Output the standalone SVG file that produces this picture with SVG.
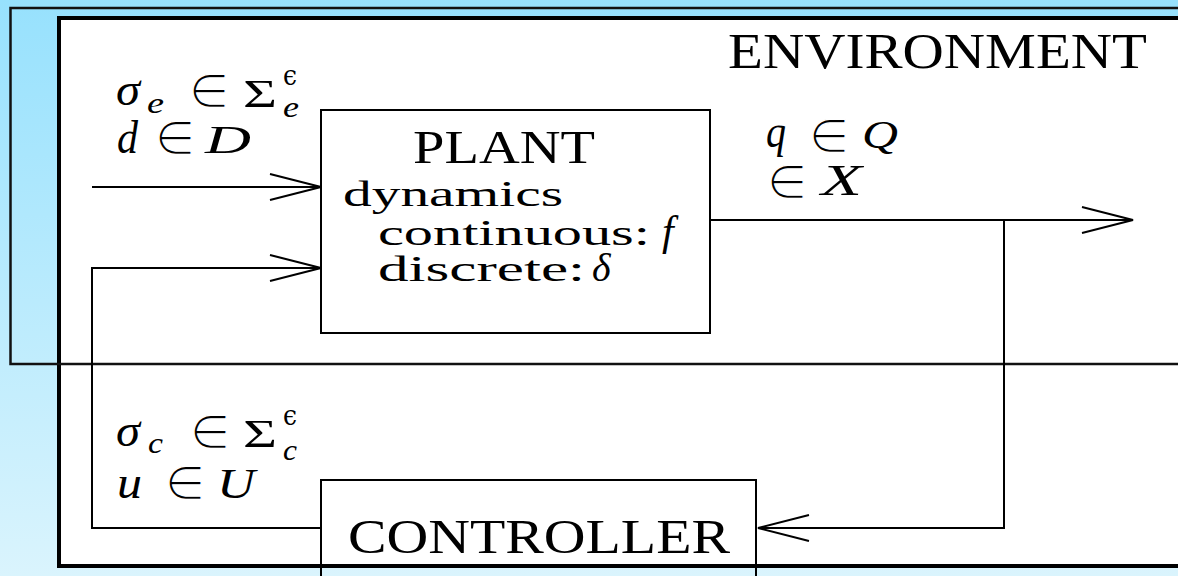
<svg xmlns="http://www.w3.org/2000/svg" width="1178" height="576" viewBox="0 0 1178 576">
  <defs>
    <linearGradient id="sky" x1="0" y1="0" x2="0" y2="1">
      <stop offset="0" stop-color="#97e1fd"/>
      <stop offset="1" stop-color="#daf4fd"/>
    </linearGradient>
    <marker id="vee" markerUnits="userSpaceOnUse" markerWidth="60" markerHeight="32" refX="53" refY="15" orient="auto">
      <path d="M2,2 L53,15 L2,28" fill="none" stroke="#000" stroke-width="2"/>
    </marker>
    <style>
      .box { fill: none; stroke: #000; stroke-width: 2; }
      .wire { fill: none; stroke: #000; stroke-width: 2; marker-end: url(#vee); }
      text { font-family: "Liberation Serif", "DejaVu Serif", serif; fill: #000; }
      .title { font-size: 50px; }
      .body { font-size: 36px; }
      .lc { font-size: 46px; font-style: italic; }
      .uc { font-size: 41px; font-style: italic; }
      /* membership sign: white outline trims the stroke to a lighter weight */
      .op { font-size: 46px; font-family: "DejaVu Sans", "DejaVu Serif", sans-serif; stroke: #fff; stroke-width: 1.4px; }
      .sg { font-size: 40px; }
      .sub { font-size: 30px; font-style: italic; }
      .sup { font-size: 28px; font-family: "DejaVu Serif", serif; }
    </style>
  </defs>

  <!-- backdrop -->
  <rect x="0" y="0" width="1178" height="576" fill="url(#sky)"/>

  <!-- system frame -->
  <g id="frame">
    <rect x="59" y="18" width="1140" height="548" fill="#fff" stroke="#000" stroke-width="4"/>
  </g>

  <!-- environment region -->
  <g id="environment">
    <rect x="10.5" y="8" width="1190" height="356" fill="none" stroke="#111" stroke-width="2.5"/>
    <text class="title" x="728" y="68" textLength="419" lengthAdjust="spacingAndGlyphs">ENVIRONMENT</text>
  </g>

  <!-- plant -->
  <g id="plant">
    <rect class="box" x="321" y="110" width="389" height="223"/>
    <text class="title" x="413" y="163" style="font-size:46px" textLength="182" lengthAdjust="spacingAndGlyphs">PLANT</text>
    <text class="body" x="343" y="206" textLength="220" lengthAdjust="spacingAndGlyphs">dynamics</text>
    <text class="body" x="378" y="245" textLength="272" lengthAdjust="spacingAndGlyphs">continuous:</text>
    <text class="lc" x="662" y="245" style="font-size:42px">f</text>
    <text class="body" x="378" y="281" textLength="207" lengthAdjust="spacingAndGlyphs">discrete:</text>
    <text class="lc" x="592" y="281" style="font-size:40px">δ</text>
  </g>

  <!-- controller -->
  <g id="controller">
    <rect class="box" x="321" y="480" width="435" height="120"/>
    <text class="title" x="348" y="553" style="font-size:48px" textLength="382" lengthAdjust="spacingAndGlyphs">CONTROLLER</text>
  </g>

  <!-- environment inputs: events and disturbances -->
  <g id="env-inputs">
    <text class="lc" x="116" y="105" textLength="24" lengthAdjust="spacingAndGlyphs">σ</text>
    <text class="sub" x="147" y="113" textLength="17" lengthAdjust="spacingAndGlyphs">e</text>
    <text class="op" x="189" y="107">∈</text>
    <text class="sg" x="243" y="107" textLength="34" lengthAdjust="spacingAndGlyphs">Σ</text>
    <text class="sup" x="283" y="85" textLength="14" lengthAdjust="spacingAndGlyphs">ϵ</text>
    <text class="sub" x="283" y="117" textLength="16" lengthAdjust="spacingAndGlyphs">e</text>
    <text class="lc" x="117" y="153" textLength="21" lengthAdjust="spacingAndGlyphs">d</text>
    <text class="op" x="155" y="154">∈</text>
    <text class="uc" x="205" y="153" textLength="46" lengthAdjust="spacingAndGlyphs">D</text>
  </g>

  <!-- plant outputs: discrete and continuous state -->
  <g id="plant-outputs">
    <text class="lc" x="766" y="147" textLength="20" lengthAdjust="spacingAndGlyphs">q</text>
    <text class="op" x="809" y="152">∈</text>
    <text class="uc" x="862" y="148" textLength="36" lengthAdjust="spacingAndGlyphs">Q</text>
    <text class="op" x="767" y="198">∈</text>
    <text class="uc" x="821" y="195" style="font-size:44px" textLength="41" lengthAdjust="spacingAndGlyphs">X</text>
  </g>

  <!-- controller outputs: control events and inputs -->
  <g id="control-inputs">
    <text class="lc" x="116" y="446" textLength="24" lengthAdjust="spacingAndGlyphs">σ</text>
    <text class="sub" x="148" y="453" textLength="15" lengthAdjust="spacingAndGlyphs">c</text>
    <text class="op" x="190" y="448">∈</text>
    <text class="sg" x="243" y="447" textLength="34" lengthAdjust="spacingAndGlyphs">Σ</text>
    <text class="sup" x="283" y="425" textLength="14" lengthAdjust="spacingAndGlyphs">ϵ</text>
    <text class="sub" x="283" y="460" textLength="14" lengthAdjust="spacingAndGlyphs">c</text>
    <text class="lc" x="117" y="498" textLength="25" lengthAdjust="spacingAndGlyphs">u</text>
    <text class="op" x="165" y="499">∈</text>
    <text class="uc" x="217" y="498" style="font-size:42px" textLength="38" lengthAdjust="spacingAndGlyphs">U</text>
  </g>

  <!-- connectors -->
  <g id="connectors">
    <path class="wire" d="M92,187 H321"/>
    <path class="wire" d="M321,528 H92 V268 H321"/>
    <path class="wire" d="M710,220 H1133"/>
    <path class="wire" d="M1004,220 V528 H758"/>
  </g>
</svg>
